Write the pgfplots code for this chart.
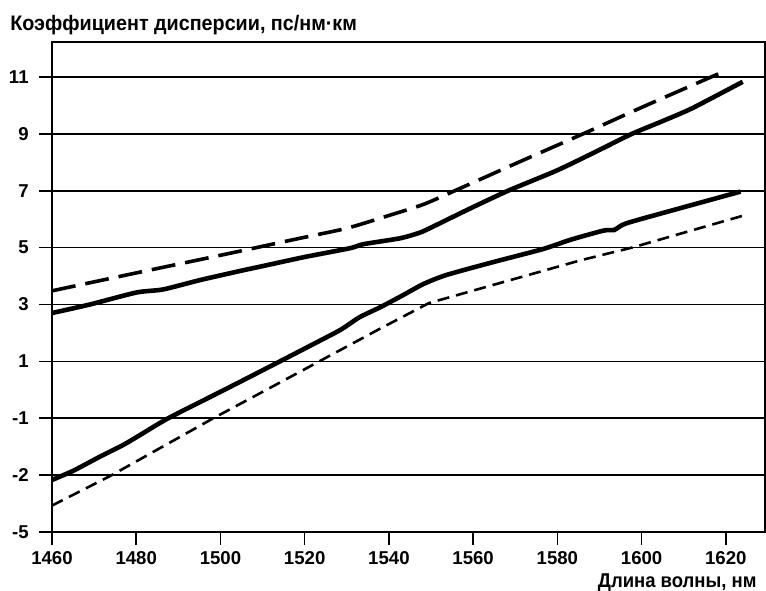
\documentclass[border=0pt]{standalone}
\usepackage{pgfplots}
\pgfplotsset{compat=1.18}
\usepackage{fontspec}
\setmainfont{Liberation Sans}
\newfontfamily\titlefont[FakeStretch=0.94]{Liberation Sans}
\newfontfamily\labfont[FakeStretch=0.925]{Liberation Sans}
\begin{document}
\begin{tikzpicture}
\useasboundingbox (-26pt,-29pt) rectangle (357pt,266pt);
\begin{axis}[
  at={(0,0)}, anchor=south west,
  width=356.5pt, height=245pt, scale only axis,
  xmin=1460, xmax=1629.3, ymin=-5, ymax=12.23,
  axis line style={line width=0.8pt},
  xtick={1460,1480,...,1620},
  ytick={-5,-3,...,11},
  yticklabels={-5,-2,-1,1,3,5,7,9,11},
  tick align=outside, tick pos=left, major tick length=6.5pt,
  every tick/.style={black, line width=0.8pt},
  ymajorgrids, grid style={black, line width=0.8pt},
  ticklabel style={font=\fontsize{9.3}{11}\selectfont\bfseries, inner sep=0pt},
  xticklabel style={anchor=north, yshift=-2.85pt},
  yticklabel style={anchor=east, xshift=-5pt},
  /pgf/number format/assume math mode=true,
  /pgf/number format/1000 sep={},
]
% upper dashed
\addplot[black, line width=1.8pt, dash pattern=on 12pt off 5pt, smooth, tension=0.4] coordinates {
(1460,3.48) (1480,4.11) (1500,4.73) (1518.9,5.33) (1530,5.68) (1538.7,6.07) (1548.2,6.52) (1556.1,7.03) (1570,7.95) (1586.1,9.0) (1600,9.93) (1619.3,11.18)};
% upper solid
\addplot[black, line width=2.3pt, smooth, tension=0.4] coordinates {
(1460,2.70) (1469,3.0) (1480,3.42) (1486.4,3.53) (1495.2,3.86) (1504.7,4.18) (1509.4,4.33) (1520,4.67) (1530.8,4.98) (1533.9,5.12) (1542.7,5.33) (1547.4,5.53) (1550.5,5.74) (1558.5,6.32) (1568.3,7.0) (1580,7.72) (1590.2,8.45) (1597.7,9.0) (1605,9.45) (1612,9.9) (1624,10.83)};
% lower solid
\addplot[black, line width=2.3pt, smooth, tension=0.4] coordinates {
(1460,-3.17) (1465,-2.85) (1471.4,-2.35) (1476.9,-1.94) (1480.9,-1.59) (1487.6,-1.0) (1500,-0.07) (1509.4,0.64) (1520,1.45) (1528.4,2.10) (1533,2.55) (1537.9,2.9) (1543,3.3) (1548.2,3.72) (1553.7,4.04) (1565,4.5) (1576.6,4.95) (1583,5.27) (1591,5.6) (1593.5,5.62) (1596.5,5.86) (1610,6.42) (1623.5,6.97)};
% lower dashed
\addplot[black, line width=1.3pt, dash pattern=on 6pt off 3.5pt] coordinates {
(1460,-4.07) (1474.2,-3.0) (1498.3,-1.0) (1509.4,-0.12) (1537.9,2.15) (1549.5,3.05) (1585.4,4.55) (1597.7,5.0) (1623.8,6.11)};
\end{axis}
\node[anchor=base west, inner sep=0pt, font=\titlefont\fontsize{10.5}{12}\selectfont\bfseries] at (-21pt,250.6pt) {Коэффициент дисперсии, пс/нм·км};
\node[anchor=base east, inner sep=0pt, font=\labfont\fontsize{10}{12}\selectfont\bfseries] at (352.5pt,-27.5pt) {Длина волны, нм};
\end{tikzpicture}
\end{document}
